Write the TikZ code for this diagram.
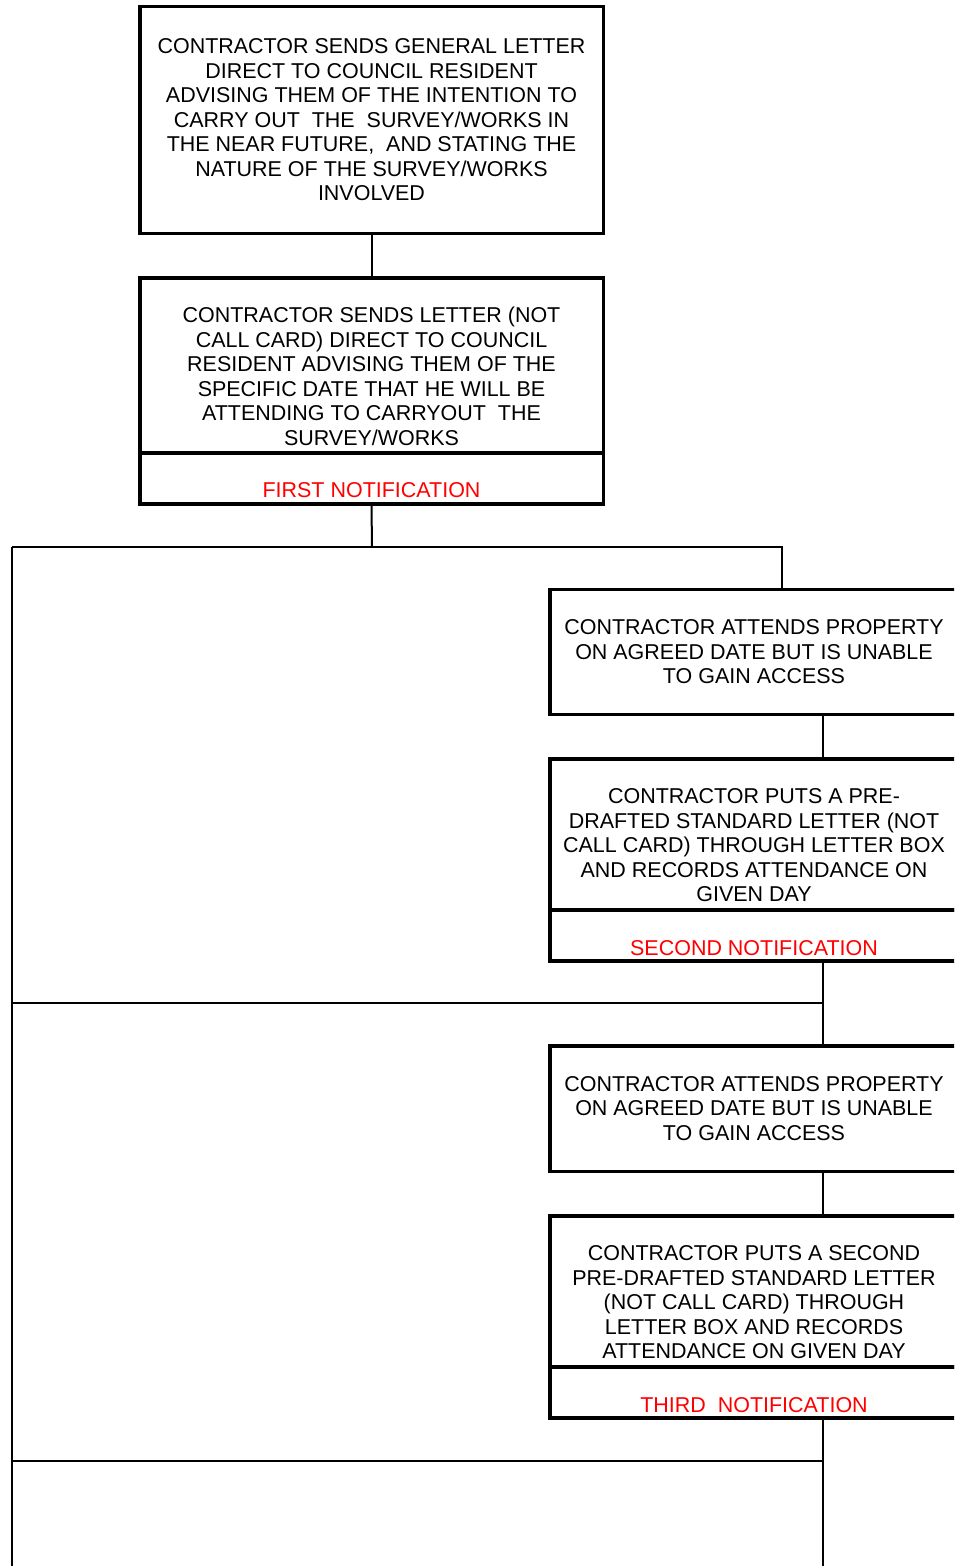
\documentclass[tikz,border=0pt]{standalone}
\usepackage{fontspec}
\setmainfont{Liberation Sans}
\usetikzlibrary{positioning}
\tikzset{
  stepbox/.style={draw,line width=2.6pt,inner sep=0pt,align=center,font=\fontsize{16.1}{18.4}\selectfont},
  steptext/.style={align=center,inner sep=0pt,font=\fontsize{16.1}{18.4}\selectfont},
  notetext/.style={steptext,text=red},
  link/.style={line width=1.5pt},
  every picture/.style={line join=miter}
}

\begin{document}
\begin{tikzpicture}[x=0.75pt,y=-0.75pt]
  \clip (0,0) rectangle (954,1566);
  % left column
  \node[stepbox,minimum width=347.6pt,minimum height=169.9pt] (gen) at (371.5,120)
    {CONTRACTOR SENDS GENERAL LETTER\\DIRECT TO COUNCIL RESIDENT\\ADVISING THEM OF THE INTENTION TO\\CARRY OUT\ \ THE\ \ SURVEY/WORKS IN\\THE NEAR FUTURE,\ \ AND STATING THE\\NATURE OF THE SURVEY/WORKS\\INVOLVED};
  \node[stepbox,minimum width=347.6pt,minimum height=131.4pt] (let) at (371.5,365.4) {};
  \node[stepbox,minimum width=347.6pt,minimum height=38.4pt] (note1) at (371.5,478.6) {};
  \node[steptext] (lettext) at ([yshift=-8.3pt]let.center)
    {CONTRACTOR SENDS LETTER (NOT\\CALL CARD) DIRECT TO COUNCIL\\RESIDENT ADVISING THEM OF THE\\SPECIFIC DATE THAT HE WILL BE\\ATTENDING TO CARRYOUT\ \ THE\\SURVEY/WORKS};
  \node[notetext] (note1text) at ([yshift=-9pt]note1.center) {FIRST NOTIFICATION};

  % right column
  \node[stepbox,minimum width=306pt,minimum height=93.4pt] (att1) at (754,652)
    {CONTRACTOR ATTENDS PROPERTY\\ON AGREED DATE BUT IS UNABLE\\TO GAIN ACCESS};
  \node[stepbox,minimum width=306pt,minimum height=113.4pt] (put1) at (754,834.4) {};
  \node[stepbox,minimum width=306pt,minimum height=38.4pt] (note2) at (754,935.6) {};
  \node[steptext] (put1text) at ([yshift=-8.3pt]put1.center)
    {CONTRACTOR PUTS A PRE-\\DRAFTED STANDARD LETTER (NOT\\CALL CARD) THROUGH LETTER BOX\\AND RECORDS ATTENDANCE ON\\GIVEN DAY};
  \node[notetext] (note2text) at ([yshift=-9pt]note2.center) {SECOND NOTIFICATION};

  \node[stepbox,minimum width=306pt,minimum height=94.1pt] (att2) at (754,1108.5)
    {CONTRACTOR ATTENDS PROPERTY\\ON AGREED DATE BUT IS UNABLE\\TO GAIN ACCESS};
  \node[stepbox,minimum width=306pt,minimum height=113.4pt] (put2) at (754,1291.4) {};
  \node[stepbox,minimum width=306pt,minimum height=38.4pt] (note3) at (754,1392.6) {};
  \node[steptext] (put2text) at ([yshift=-8.3pt]put2.center)
    {CONTRACTOR PUTS A SECOND\\PRE-DRAFTED STANDARD LETTER\\(NOT CALL CARD) THROUGH\\LETTER BOX AND RECORDS\\ATTENDANCE ON GIVEN DAY};
  \node[notetext] (note3text) at ([yshift=-9pt]note3.center) {THIRD\ \ NOTIFICATION};

  % junctions
  \coordinate (split) at (372,547);
  \coordinate (west1) at (12,547);
  \coordinate (east1) at (782,547);
  \coordinate (spine) at (823,0);
  \coordinate (west2) at (12,1003);
  \coordinate (east2) at (823,1003);
  \coordinate (west3) at (12,1461);
  \coordinate (east3) at (823,1461);
  \coordinate (foot) at (12,1566);
  \coordinate (tail) at (823,1566);

  \draw[link] (gen) -- (let);
  \draw[link] (note1.south) -- (split);
  \draw[link] (west1) -- (east1) -- (east1 |- att1.north);
  \draw[link] (west1) -- (foot);
  \draw[link] (att1.south -| spine) -- (put1.north -| spine);
  \draw[link] (note2.south -| spine) -- (att2.north -| spine);
  \draw[link] (west2) -- (east2);
  \draw[link] (att2.south -| spine) -- (put2.north -| spine);
  \draw[link] (note3.south -| spine) -- (tail);
  \draw[link] (west3) -- (east3);
\end{tikzpicture}
\end{document}
